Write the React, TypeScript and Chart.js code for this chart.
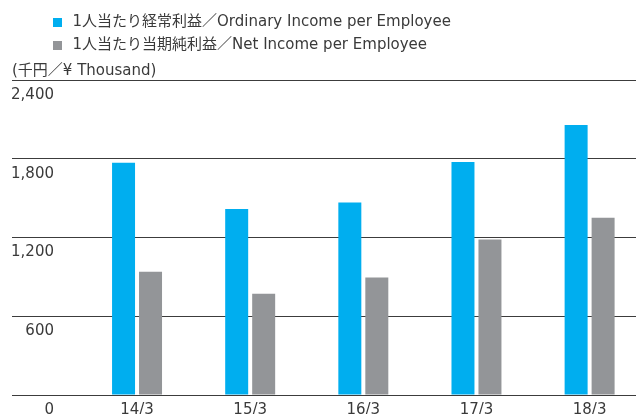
import React, { useEffect, useRef } from 'react';
import { Chart, registerables } from 'chart.js';

Chart.register(...registerables);

const categories = ['14/3', '15/3', '16/3', '17/3', '18/3'];
const ordinaryIncome = [1770, 1418, 1466, 1776, 2057];
const netIncome = [939, 771, 895, 1184, 1350];
const seriesNames = [
  '1人当たり経常利益／Ordinary Income per Employee',
  '1人当たり当期純利益／Net Income per Employee',
];
const seriesColors = ['#00aeef', '#939598'];
const unitLabel = '(千円／¥ Thousand)';
const yTicks = [0, 600, 1200, 1800, 2400];

const FONT = "'DejaVu Sans', 'Noto Sans CJK JP', sans-serif";
const TEXT = '#3a3a3a';
const TICK_SIZE = 15;

const fmt = (v: number) => Number(v).toLocaleString('en-US');

export default function App() {
  const ref = useRef<HTMLCanvasElement | null>(null);

  useEffect(() => {
    document.body.style.margin = '0';
    const canvas = ref.current;
    if (!canvas) return;
    // measure widest y tick label so mirrored labels can be right-aligned
    const mctx = canvas.getContext('2d')!;
    mctx.font = `normal ${TICK_SIZE}px ${FONT}`;
    const widest = Math.max(...yTicks.map((v) => mctx.measureText(fmt(v)).width));

    const chart = new Chart(canvas, {
      type: 'bar',
      data: {
        datasets: [
          {
            label: seriesNames[0],
            data: ordinaryIncome.map((v, i) => ({ x: i, y: v })),
            backgroundColor: seriesColors[0],
            borderWidth: 0,
            categoryPercentage: 0.477,
            barPercentage: 0.852,
          },
          {
            label: seriesNames[1],
            data: netIncome.map((v, i) => ({ x: i, y: v })),
            backgroundColor: seriesColors[1],
            borderWidth: 0,
            categoryPercentage: 0.477,
            barPercentage: 0.852,
          },
        ],
      },
      options: {
        responsive: false,
        animation: false,
        layout: { padding: { left: 12, top: 7, right: 0, bottom: 0 } },
        plugins: {
          legend: {
            position: 'top',
            align: 'start',
            fullSize: false,
            labels: {
              usePointStyle: true,
              pointStyle: 'rect',
              boxWidth: 15,
              boxHeight: 9,
              padding: 8,
              color: TEXT,
              font: { family: FONT, size: 15 },
            },
          },
          title: {
            display: true,
            text: unitLabel,
            position: 'top',
            align: 'start',
            fullSize: true,
            weight: 500,
            color: TEXT,
            font: { family: FONT, size: 15, weight: 'normal', lineHeight: 1 },
            padding: { top: 0.5, bottom: 1.5 },
          },
          tooltip: { enabled: false },
        },
        scales: {
          x: {
            type: 'linear',
            position: 'bottom',
            offset: false,
            min: -0.84,
            max: 4.41,
            grid: { display: false, drawTicks: false },
            border: { display: false },
            afterBuildTicks: (s: any) => {
              s.ticks = categories.map((_, i) => ({ value: i }));
            },
            afterFit: (s: any) => {
              s.height = 19;
            },
            ticks: {
              callback: (v: any) => categories[v] ?? '',
              padding: 6.5,
              maxRotation: 0,
              autoSkip: false,
              color: TEXT,
              font: { family: FONT, size: TICK_SIZE },
            },
          },
          y: {
            type: 'linear',
            position: 'left',
            min: 0,
            max: 2400,
            afterBuildTicks: (s: any) => {
              s.ticks = yTicks.map((v) => ({ value: v }));
            },
            afterFit: (s: any) => {
              s.width = 30;
            },
            grid: { color: '#3c3c3c', lineWidth: 1, drawTicks: true, tickLength: 30 },
            border: { display: false },
            ticks: {
              mirror: true,
              crossAlign: 'far',
              padding: 12 - widest,
              labelOffset: 15,
              color: TEXT,
              font: { family: FONT, size: TICK_SIZE },
              callback: (v: any) => fmt(v),
            },
          },
        },
      },
    } as any);
    return () => chart.destroy();
  }, []);

  return (
    <canvas
      ref={ref}
      width={636}
      height={414}
      style={{ display: 'block', width: 636, height: 414 }}
    />
  );
}
